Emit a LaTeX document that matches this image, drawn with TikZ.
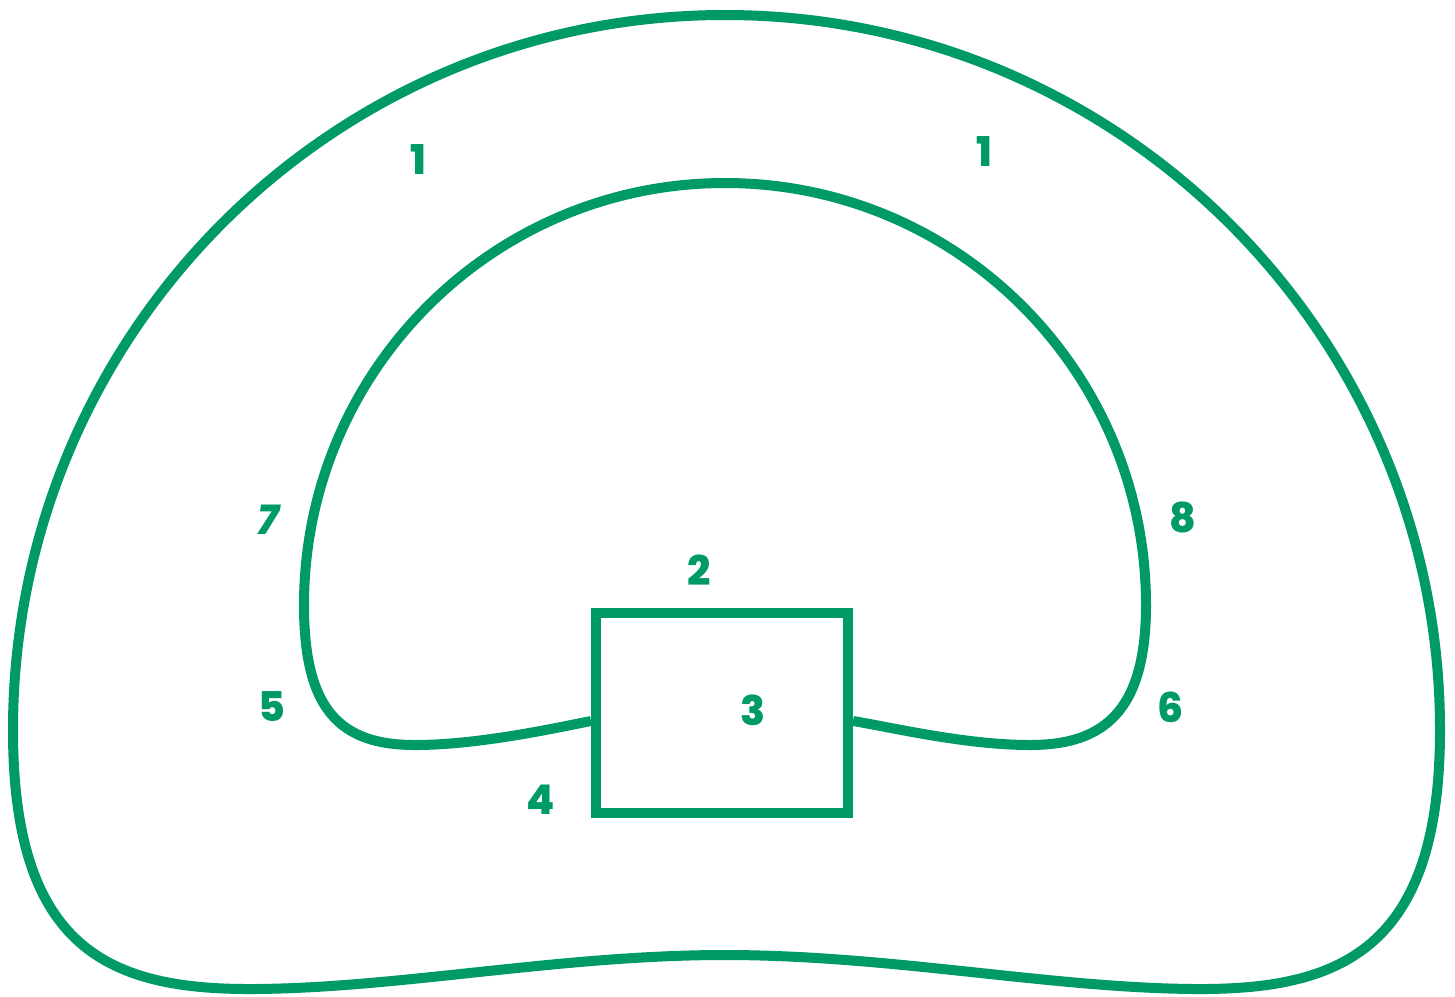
\documentclass[tikz,border=0pt]{standalone}
\usepackage{fontspec}
\setmainfont{Poppins}[UprightFont=* ExtraBold, ItalicFont=* ExtraBold Italic]
\definecolor{grn}{RGB}{0,154,100}
\begin{document}
\begin{tikzpicture}[x=1pt,y=-1pt,
  curve/.style={draw=grn,line width=10pt},
  lbl/.style={text=grn,font=\fontsize{41}{41}\selectfont,inner sep=0pt}]
\useasboundingbox (0,0) rectangle (1455,996);
% outer closed curve
\draw[curve] (725,15) .. controls (331,15) and (13,335) .. (13,730)
  .. controls (13,950) and (110,990) .. (255,989)
  .. controls (400,988) and (560,955) .. (725,955)
  .. controls (890,955) and (1050,988) .. (1195,989)
  .. controls (1340,990) and (1440,950) .. (1440,730)
  .. controls (1440,335) and (1119,15) .. (725,15) -- cycle;
% rectangle
\node[draw=grn,line width=10pt,minimum width=252pt,minimum height=200pt,inner sep=0pt] (box) at (722,713) {};
% inner curve
\coordinate (L) at (box.west |- 0,721);
\coordinate (R) at (box.east |- 0,721);
\draw[curve] (L) .. controls (560,727) and (480,745) .. (415,745)
  .. controls (340,745) and (304,710) .. (304,605)
  .. controls (304,372) and (492,183) .. (725,183)
  .. controls (958,183) and (1146,372) .. (1146,605)
  .. controls (1146,710) and (1105,745) .. (1030,745)
  .. controls (965,745) and (890,727) .. (R);
% labels
\node[lbl] (n1a) at (418,160) {1};
\node[lbl] (n1b) at (984,152) {1};
\node[lbl] (n7) at (268,520) {\itshape 7};
\node[lbl] (n8) at (1183,517) {8};
\node[lbl] (n2) at (699,570) {2};
\node[lbl] (n3) at (753,710) {3};
\node[lbl] (n5) at (272,707) {5};
\node[lbl] (n6) at (1170,707) {6};
\node[lbl] (n4) at (541,800) {4};
\end{tikzpicture}
\end{document}
